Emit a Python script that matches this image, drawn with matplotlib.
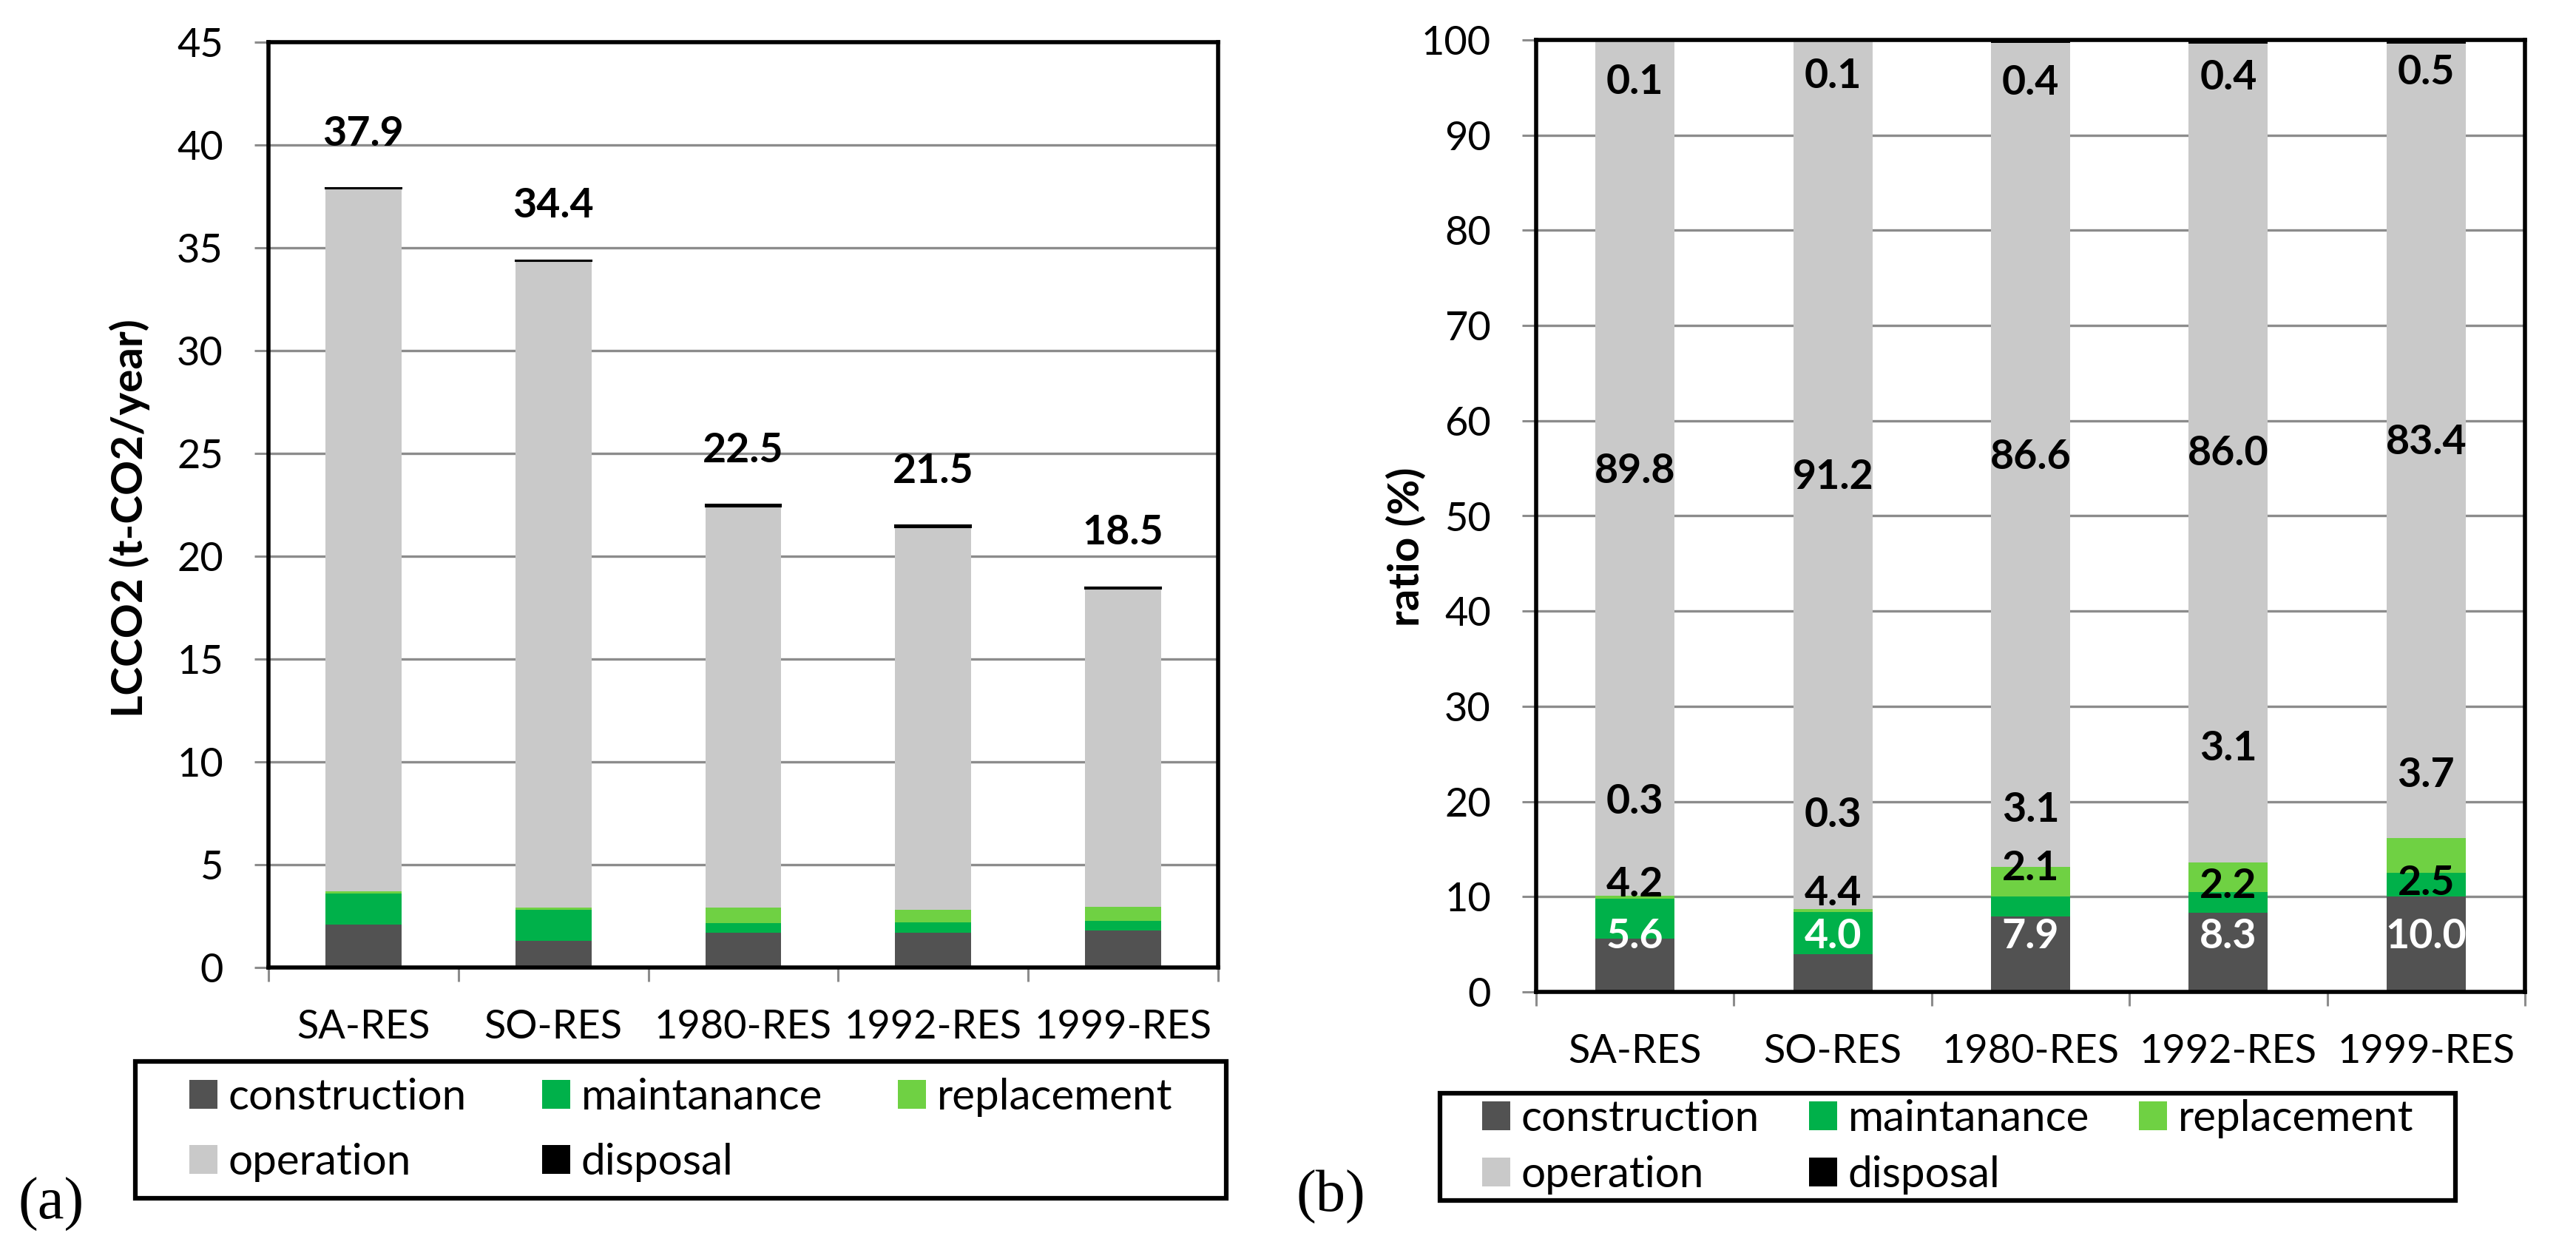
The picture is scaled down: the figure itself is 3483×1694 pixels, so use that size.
import matplotlib.pyplot as plt
from matplotlib.patches import Patch, Rectangle

plt.rcParams["font.family"] = ["Lato", "DejaVu Sans"]

cases = ["SA-RES", "SO-RES", "1980-RES", "1992-RES", "1999-RES"]
series = ["construction", "maintanance", "replacement", "operation", "disposal"]
colors = ["#525252", "#00b14a", "#6fd143", "#c9c9c9", "#000000"]

# (a) LCCO2, t-CO2/year
construction = [2.1, 1.3, 1.7, 1.7, 1.8]
maintanance = [1.5, 1.5, 0.45, 0.5, 0.45]
replacement = [0.12, 0.12, 0.75, 0.6, 0.7]
operation = [34.14, 31.45, 19.51, 18.61, 15.46]
disposal = [0.04, 0.03, 0.09, 0.09, 0.09]
totals = [37.9, 34.4, 22.5, 21.5, 18.5]

# (b) ratio, %
construction_pct = [5.6, 4.0, 7.9, 8.3, 10.0]
maintanance_pct = [4.2, 4.4, 2.1, 2.2, 2.5]
replacement_pct = [0.3, 0.3, 3.1, 3.1, 3.7]
operation_pct = [89.8, 91.2, 86.6, 86.0, 83.4]
disposal_pct = [0.1, 0.1, 0.4, 0.4, 0.5]

# where excel put the labels in (b)
label_y_pct = {
    "construction": [5.8, 5.8, 5.8, 5.8, 5.8],
    "maintanance": [11.3, 10.3, 13.0, 11.1, 11.4],
    "replacement": [20.0, 18.6, 19.1, 25.6, 22.8],
    "operation": [54.7, 54.1, 56.2, 56.6, 57.7],
    "disposal": [95.6, 96.2, 95.5, 96.0, 96.6],
}

W, H = 3483, 1694
fig = plt.figure(figsize=(W / 100, H / 100), dpi=100)

ax_a = fig.add_axes([363 / W, 1 - 1308 / H, (1647 - 363) / W, (1308 - 57) / H])
ax_b = fig.add_axes([2077 / W, 1 - 1341 / H, (3414 - 2077) / W, (1341 - 54) / H])

GRID = "#8c8c8c"
FS = 39


def draw_stack(ax, values, top_edge=True):
    x = list(range(len(cases)))
    bottom = [0] * len(cases)
    for name, vals, col in zip(series, values, colors):
        lw = 1.5 if (name == "disposal" and top_edge) else 0
        ax.bar(x, vals, 0.4, bottom=bottom, color=col, edgecolor=col,
               linewidth=lw, zorder=2, label=name)
        bottom = [b + v for b, v in zip(bottom, vals)]


def style_axes(ax, ymax, ystep):
    ax.set_xlim(-0.5, 4.5)
    ax.set_ylim(0, ymax)
    ax.set_yticks(range(0, ymax + 1, ystep))
    ax.set_xticks(range(len(cases)))
    ax.set_xticklabels(cases)
    ax.set_xticks([i - 0.5 for i in range(len(cases) + 1)], minor=True)
    ax.tick_params(axis="x", which="major", length=0, pad=40, labelsize=FS)
    ax.tick_params(axis="x", which="minor", length=14, width=2.2,
                   color=GRID, direction="out")
    ax.tick_params(axis="y", length=14, width=2.2, color=GRID,
                   direction="out", pad=30, labelsize=FS)
    ax.yaxis.grid(True, color=GRID, linewidth=2.4, zorder=0)
    ax.set_axisbelow(True)
    for s in ax.spines.values():
        s.set_linewidth(4)
        s.set_color("black")


draw_stack(ax_a, [construction, maintanance, replacement, operation, disposal])
style_axes(ax_a, 45, 5)
for i, t in enumerate(totals):
    ax_a.text(i, t + 2.65, f"{t:.1f}", ha="center", va="center",
              fontsize=40, fontweight="bold", zorder=3)

pct = [construction_pct, maintanance_pct, replacement_pct, operation_pct, disposal_pct]
draw_stack(ax_b, pct, top_edge=False)
style_axes(ax_b, 100, 10)
for name, vals in zip(series, pct):
    col = "white" if name == "construction" else "black"
    for i, v in enumerate(vals):
        ax_b.text(i, label_y_pct[name][i], f"{v:.1f}", ha="center", va="center",
                  fontsize=40, fontweight="bold", color=col, zorder=3)

fig.text(175 / W, 1 - 701 / H, "LCCO2 (t-CO2/year)", rotation=90,
         ha="center", va="center", fontsize=42, fontweight="bold")
fig.text(1902 / W, 1 - 739 / H, "ratio (%)", rotation=90,
         ha="center", va="center", fontsize=42, fontweight="bold")

# legends: row-major order in 3 columns
order = [0, 3, 1, 4, 2]
handles = [Patch(facecolor=colors[k], edgecolor="none") for k in order]
labels = [series[k] for k in order]

legend_boxes = [((183, 1435, 1658, 1620), 1.75, 0.6),
                ((1947, 1478, 3320, 1623), 1.15, 0.4)]
for box, spacing, rows in legend_boxes:
    x0, y0, x1, y1 = box
    fig.patches.append(Rectangle((x0 / W, 1 - y1 / H), (x1 - x0) / W, (y1 - y0) / H,
                                 transform=fig.transFigure, fill=False,
                                 edgecolor="black", linewidth=4.5))
    fig.legend(handles, labels, ncol=3, loc="center",
               bbox_to_anchor=(((x0 + x1) / 2) / W, 1 - ((y0 + y1) / 2) / H),
               frameon=False, fontsize=42, handlelength=0.65, handleheight=0.65,
               handletextpad=0.25, columnspacing=spacing, labelspacing=rows,
               borderpad=0)

fig.text(25 / W, 1 - 1628 / H, "(a)", family=["Liberation Serif", "DejaVu Serif"],
         fontsize=58, ha="left", va="center")
fig.text(1753 / W, 1 - 1618 / H, "(b)", family=["Liberation Serif", "DejaVu Serif"],
         fontsize=58, ha="left", va="center")

fig.savefig("out.png", dpi=100)
